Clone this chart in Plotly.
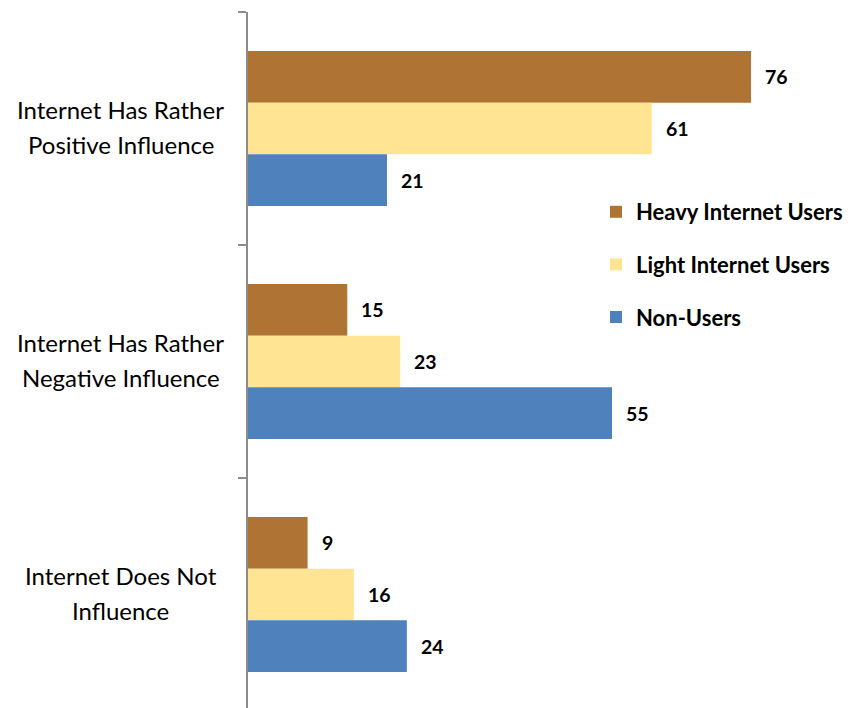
import plotly.graph_objects as go

categories = ["Internet Has Rather\nPositive Influence",
              "Internet Has Rather\nNegative Influence",
              "Internet Does Not\nInfluence"]
series_names = ["Heavy Internet Users", "Light Internet Users", "Non-Users"]
heavy = [76, 15, 9]
light = [61, 23, 16]
non_users = [21, 55, 24]

colors = ["#AF7433", "#FFE593", "#4F81BD"]
values = [heavy, light, non_users]
FONT = "Lato, 'Open Sans', sans-serif"

W, H = 848, 708
ML, MR, MT, MB = 248, 0, 12, 0
plot_w = W - ML - MR
plot_h = H - MT - MB

fig = go.Figure()
for name, vals, col in zip(series_names, values, colors):
    fig.add_trace(go.Bar(
        y=list(range(len(categories))), x=vals, orientation="h", name=name,
        marker=dict(color=col, line=dict(width=0)),
        legendgroup=name,
    ))

bargap = 0.335
bar_w = (1 - bargap) / len(series_names)
annotations = []
# value labels to the right of each bar
for k, vals in enumerate(values):
    off = (k - (len(series_names) - 1) / 2) * bar_w
    for i, v in enumerate(vals):
        annotations.append(dict(
            x=v, y=i + off, xref="x", yref="y", text=f"<b>{v}</b>",
            showarrow=False, xanchor="left", yanchor="middle", xshift=12,
            font=dict(family=FONT, size=19.5, color="#000000"),
        ))
# category labels, centered, two lines each
label_cx = (119 - ML) / plot_w
for i, cat in enumerate(categories):
    lines = cat.split("\n")
    n = len(lines)
    for j, line in enumerate(lines):
        annotations.append(dict(
            x=label_cx, y=i, xref="paper", yref="y", text=line,
            showarrow=False, xanchor="center", yanchor="middle",
            yshift=-(j - (n - 1) / 2) * 35 + 2,
            font=dict(family=FONT, size=24, color="#000000"),
        ))

span = plot_h / 233
fig.update_layout(
    width=W, height=H,
    margin=dict(l=ML, r=MR, t=MT, b=MB),
    paper_bgcolor="white", plot_bgcolor="white",
    barmode="group", bargap=bargap, bargroupgap=0,
    font=dict(family=FONT, color="#000000"),
    xaxis=dict(range=[0, plot_w / 6.708], visible=False, fixedrange=True),
    yaxis=dict(
        range=[-0.5 + span, -0.5], showgrid=False, zeroline=False,
        showline=True, linecolor="#8C8C8C", linewidth=1.5,
        tickmode="array", tickvals=[-0.5, 0.5, 1.5, 2.5], ticktext=["", "", "", ""],
        ticks="outside", ticklen=8, tickcolor="#8C8C8C", tickwidth=1.5,
    ),
    showlegend=True,
    legend=dict(
        x=(601 - ML) / plot_w, xanchor="left", y=(H - 191 - MB) / plot_h,
        yanchor="top", traceorder="grouped", tracegroupgap=21,
        font=dict(family=FONT, size=22, color="#000000", weight="bold"),
        bgcolor="rgba(0,0,0,0)", borderwidth=0,
    ),
    annotations=annotations,
)

fig.write_html("out.html")
